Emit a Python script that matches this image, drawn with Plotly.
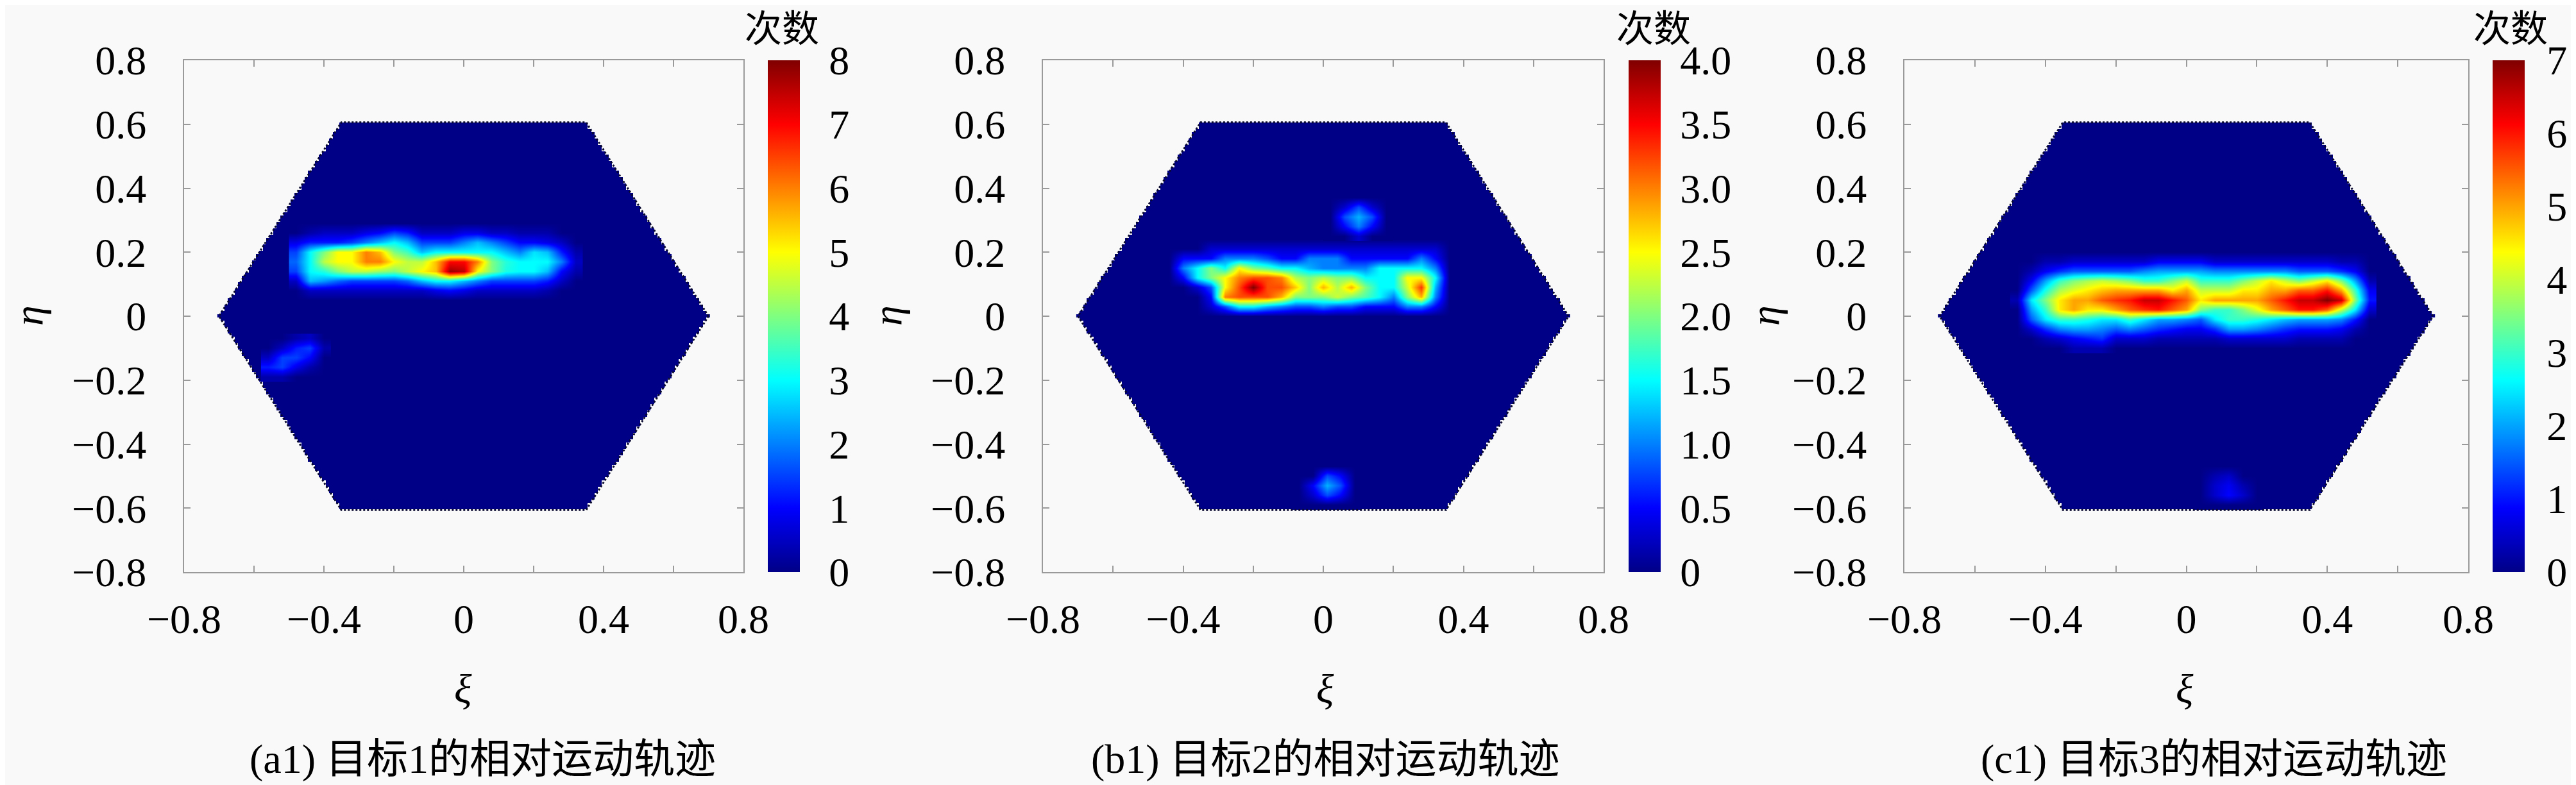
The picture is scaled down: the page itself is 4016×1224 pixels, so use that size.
import numpy as np
import plotly.graph_objects as go

#%% data
HEX_R = 0.7                      # hexagon circumradius in (xi, eta)
CBAR_MAX = [8, 4, 7]             # colour bar ranges per panel
CBAR_TICKS_A = [0, 1, 2, 3, 4, 5, 6, 7, 8]
CBAR_TICKS_B = [0, 0.5, 1.0, 1.5, 2.0, 2.5, 3.0, 3.5, 4.0]
CBAR_TEXT_B = ['0', '0.5', '1.0', '1.5', '2.0', '2.5', '3.0', '3.5', '4.0']
CBAR_TICKS_C = [0, 1, 2, 3, 4, 5, 6, 7]
AXIS_TICKS = [-0.8, -0.6, -0.4, -0.2, 0, 0.2, 0.4, 0.6, 0.8]
X_TEXT = ['\u22120.8', '', '\u22120.4', '', '0', '', '0.4', '', '0.8']
Y_TEXT = ['\u22120.8', '\u22120.6', '\u22120.4', '\u22120.2', '0', '0.2', '0.4', '0.6', '0.8']
CAPTIONS = ['(a1) 目标1的相对运动轨迹', '(b1) 目标2的相对运动轨迹', '(c1) 目标3的相对运动轨迹']

# counts on a coarse grid (dx = 0.04, dy = 0.03), rows from bottom to top
BAND_DX = 0.04
BAND_DY = 0.03

A_BAND_X0, A_BAND_Y0 = -0.48, 0.05
A_BAND = [
    [0]*21,
    [0, 0.5, 0.5, 0.5, 0.5, 0.5, 0.5, 0.5, 0.5, 0.5, 0.8, 1, 0.8, 0.5, 0.5, 0.5, 0.5, 0.5, 0.3, 0, 0],
    [0.5, 2.5, 2.2, 1.8, 1.5, 1.5, 1.5, 1.5, 1.8, 2.5, 3, 3, 2.5, 2, 1.5, 1.5, 1.5, 1.5, 1.2, 0.5, 0],
    [1.5, 3, 3.3, 4, 4.5, 4.5, 4.2, 4, 4.5, 5, 5.5, 7.8, 7.5, 5, 4, 3.2, 3, 3, 2.5, 1, 0.3],
    [1.8, 3, 4.5, 5, 5, 6, 6, 5, 4.5, 4.5, 5.5, 7, 7, 6, 4, 3.3, 3, 3, 3, 2, 0.5],
    [1.5, 3, 4, 5, 5, 6, 5.5, 4, 3.5, 2.5, 3, 3, 3, 3, 3, 2.5, 2, 2.8, 2.5, 1.2, 0.3],
    [0.8, 1.2, 1.2, 1.2, 1.5, 2, 2.5, 3, 2.5, 1.5, 1.5, 1.5, 2, 2.5, 2, 1.5, 1, 1, 0.8, 0.5, 0],
    [0, 0.3, 0.5, 0.5, 0.5, 0.8, 1, 1.5, 1.2, 0.5, 0.5, 0.5, 0.8, 0.8, 0.5, 0.5, 0.3, 0.3, 0.3, 0, 0],
    [0]*21,
]
A_SPOT_X0, A_SPOT_Y0 = -0.56, -0.19
A_SPOT = [
    [0.3, 0.3, 0, 0, 0],
    [1.2, 1.5, 0.8, 0.3, 0],
    [0.5, 1.5, 1.5, 1.0, 0],
    [0, 0.5, 1.2, 1.5, 0.3],
    [0, 0, 0.3, 0.5, 0],
]

B_BAND_X0, B_BAND_Y0 = -0.44, 0.0
B_BAND = [
    [0]*21,
    [0, 0, 0, 0.3, 0.8, 1.5, 1.5, 1.2, 1, 0.8, 0.8, 1, 0.8, 0.8, 0.5, 0.5, 0.5, 1, 1, 0.5, 0],
    [0, 0, 0, 0.5, 3, 3.2, 3.2, 3.2, 2.8, 2, 2, 2, 2.3, 2, 1.8, 1.5, 1, 2, 2.8, 1, 0],
    [0, 0, 0.3, 0.8, 2.5, 3.2, 4, 3.2, 3.2, 2.7, 2, 2.8, 2.2, 2.8, 2, 1.5, 1.5, 2.3, 3.3, 1.2, 0],
    [0, 0.5, 1.5, 2, 2.5, 3, 3.2, 3.2, 3, 2.2, 2, 2.2, 2, 2, 1.5, 1.5, 1.5, 2.5, 2.5, 1.5, 0],
    [0, 1, 1.5, 2, 1.5, 2.5, 2, 1.8, 1.5, 1.5, 1.2, 1, 1, 1, 1, 1.5, 1.5, 1.5, 1.5, 1, 0],
    [0, 0.5, 0.5, 0.5, 1, 1, 1, 0.8, 0.5, 0.5, 1, 1, 1, 0.5, 0.5, 0.5, 0.5, 0.5, 1, 0.5, 0],
    [0, 0, 0, 0.3, 0.3, 0.3, 0.3, 0.3, 0.3, 0.3, 0.3, 0.3, 0.3, 0.3, 0.3, 0.3, 0.3, 0.3, 0.3, 0.3, 0],
    [0]*21,
]
B_SPOT1_X0, B_SPOT1_Y0 = 0.02, 0.25
B_SPOT1 = [
    [0, 0, 0.3, 0, 0],
    [0, 0.5, 1, 0.5, 0],
    [0, 0.8, 1.2, 0.8, 0],
    [0, 0.3, 0.8, 0.3, 0],
    [0, 0, 0, 0, 0],
]
B_SPOT2_X0, B_SPOT2_Y0 = -0.07, -0.59
B_SPOT2 = [
    [0, 0, 0, 0, 0],
    [0, 0.3, 0.8, 0.5, 0],
    [0, 0.5, 1.2, 0.8, 0],
    [0, 0, 0.8, 0.5, 0],
    [0, 0, 0, 0, 0],
]

C_BAND_X0, C_BAND_Y0 = -0.48, -0.10
C_BAND = [
    [0, 0, 0, 0, 0.3, 0.3, 0.3, 0, 0, 0, 0, 0, 0, 0, 0, 0, 0, 0, 0, 0, 0, 0, 0, 0, 0, 0],
    [0, 0, 0.3, 0.5, 0.8, 1, 1.2, 0.5, 0.5, 0.5, 0.3, 0.3, 0.3, 0.3, 0.3, 0.5, 0.5, 0.5, 0.5, 0.5, 0.3, 0.3, 0.3, 0.3, 0, 0],
    [0, 0.5, 1.2, 1.8, 2, 2, 1.8, 1.5, 1.8, 1.5, 1.2, 1, 0.8, 0.8, 1.2, 2, 2, 1.8, 1.5, 1.2, 1, 1, 1, 0.8, 0.3, 0],
    [0, 1.5, 2.5, 3, 3, 2.8, 2.5, 2.5, 3, 2.5, 2, 2, 1.8, 1.5, 2.5, 3, 3, 2.8, 2.5, 2.2, 2, 2, 2, 1.8, 1, 0],
    [0, 2, 3, 4.5, 5, 4.5, 4.5, 5, 5.5, 5.8, 6, 5.5, 5, 3.5, 3, 3, 3.5, 4.2, 5, 5.5, 6, 6, 5.5, 4, 2.5, 0.5],
    [0.3, 2.5, 3.5, 4.5, 5, 5, 5.5, 5.8, 6, 6.5, 6.5, 6, 5.5, 4.5, 5, 5, 5, 5, 5.5, 6, 6.5, 6.5, 7, 6.5, 3.5, 1],
    [0, 1.5, 2.8, 3.8, 4.2, 4.5, 4.8, 5, 5, 5, 5, 4.5, 5, 4, 4, 4, 4.5, 4.5, 5, 5, 5.5, 5.5, 6, 5, 3, 0.8],
    [0, 0.8, 2, 3, 3.5, 3.8, 4, 3.8, 3.5, 3, 3, 3.5, 4, 3, 3, 3, 3.5, 4, 4.5, 4, 3.5, 4, 4.5, 3.5, 2, 0.3],
    [0, 0.3, 0.8, 1.2, 1.5, 1.5, 1.5, 1.5, 1.5, 1.8, 2, 2, 2, 2, 1.8, 1.8, 1.8, 1.8, 1.8, 1.8, 1.5, 1.5, 1.5, 1.2, 0.8, 0],
    [0, 0, 0.3, 0.3, 0.5, 0.5, 0.5, 0.5, 0.5, 0.5, 0.8, 0.8, 0.8, 0.8, 0.5, 0.5, 0.5, 0.5, 0.5, 0.5, 0.5, 0.5, 0.5, 0.3, 0.3, 0],
    [0]*26,
]
C_SPOT_X0, C_SPOT_Y0 = 0.04, -0.59
C_SPOT = [
    [0, 0, 0, 0, 0],
    [0, 0.5, 0.9, 0.5, 0],
    [0, 0.5, 0.8, 0.3, 0],
    [0, 0.3, 0.5, 0, 0],
    [0, 0, 0, 0, 0],
]

#%% style
JET = [[0, 'rgb(0,0,135)'], [0.125, 'rgb(0,0,255)'], [0.375, 'rgb(0,255,255)'],
       [0.625, 'rgb(255,255,0)'], [0.875, 'rgb(255,0,0)'], [1, 'rgb(128,0,0)']]
BG = '#f9f9f9'
SERIF = 'Liberation Serif'
CAP_FONT = 'Liberation Serif, Noto Sans CJK SC'
FS = 64
W, H = 4016, 1224

# pixel layout of the three panels
X_DOM = [(279, 1151), (1618, 2492), (2961, 3840)]
Y_TOP, Y_BOT = 86, 884
CBAR_X = [1189, 2531, 3878]
CBAR_TICKLEN = [33, 18, 22]
ETA_X = [37, 1376, 2744]
XI_X = [714, 2058, 3398]
CAP_X = [744, 2058, 3443]
CNT_X = [1211, 2570, 3906]

#%% hexagon domain (zeros inside, blank outside)
gx = np.round(np.arange(-0.70, 0.7001, 0.01), 3)
gy = np.round(np.arange(-0.61, 0.6101, 0.01), 3)
GX, GY = np.meshgrid(gx, gy)
inside = (np.abs(GY) <= HEX_R*np.sqrt(3)/2) & (np.abs(GY) <= np.sqrt(3)*(HEX_R - np.abs(GX)))
hex_z = np.where(inside, 0.0, np.nan)
ang = np.radians(np.arange(0, 361, 60))
hex_x = HEX_R*np.cos(ang)
hex_y = HEX_R*np.sin(ang)


def patch(x0, y0, z, n, zmax):
    xs = [round(x0 + BAND_DX*i, 3) for i in range(len(z[0]))]
    ys = [round(y0 + BAND_DY*j, 3) for j in range(len(z))]
    return go.Heatmap(x=xs, y=ys, z=z, zsmooth='best', colorscale=JET, zmin=0, zmax=zmax,
                      showscale=False, xaxis='x' + n, yaxis='y' + n, hoverinfo='skip')


panels = [
    [(A_BAND_X0, A_BAND_Y0, A_BAND), (A_SPOT_X0, A_SPOT_Y0, A_SPOT)],
    [(B_BAND_X0, B_BAND_Y0, B_BAND), (B_SPOT1_X0, B_SPOT1_Y0, B_SPOT1), (B_SPOT2_X0, B_SPOT2_Y0, B_SPOT2)],
    [(C_BAND_X0, C_BAND_Y0, C_BAND), (C_SPOT_X0, C_SPOT_Y0, C_SPOT)],
]
cbar_ticks = [(CBAR_TICKS_A, [str(v) for v in CBAR_TICKS_A]),
              (CBAR_TICKS_B, CBAR_TEXT_B),
              (CBAR_TICKS_C, [str(v) for v in CBAR_TICKS_C])]

fig = go.Figure()
layout = dict(width=W, height=H, margin=dict(l=0, r=0, t=0, b=0, autoexpand=False),
              paper_bgcolor=BG, plot_bgcolor=BG, showlegend=False)
annotations = []
ydom = [1 - Y_BOT/H, 1 - Y_TOP/H]


def note(x, y, text, family, size, angle=0):
    return dict(x=x/W, y=1 - y/H, text=text, textangle=angle, showarrow=False,
                xref='paper', yref='paper', xanchor='center', yanchor='middle',
                font=dict(family=family, size=size, color='black'))


for k in range(3):
    n = '' if k == 0 else str(k + 1)
    zmax = CBAR_MAX[k]
    tv, tt = cbar_ticks[k]
    fig.add_trace(go.Heatmap(
        x=gx, y=gy, z=hex_z, colorscale=JET, zmin=0, zmax=zmax, hoverinfo='skip',
        xaxis='x' + n, yaxis='y' + n,
        colorbar=dict(x=CBAR_X[k]/W, xanchor='left', xpad=0, y=ydom[0], yanchor='bottom', ypad=0,
                      len=ydom[1] - ydom[0], lenmode='fraction', thickness=50, thicknessmode='pixels',
                      outlinewidth=0, tickvals=tv, ticktext=tt, ticks='outside',
                      ticklen=CBAR_TICKLEN[k], tickcolor='rgba(0,0,0,0)',
                      tickfont=dict(family=SERIF, size=FS, color='black'))))
    for x0, y0, z in panels[k]:
        fig.add_trace(patch(x0, y0, z, n, zmax))
    fig.add_trace(go.Scatter(x=hex_x, y=hex_y, mode='lines', hoverinfo='skip',
                             line=dict(color='#0a0a30', width=3, dash='dot'),
                             xaxis='x' + n, yaxis='y' + n))

    ax = dict(range=[-0.8, 0.8], showgrid=False, zeroline=False, showline=True,
              linecolor='#9a9a9a', linewidth=2, mirror='ticks', ticks='inside', ticklen=10,
              tickcolor='#9a9a9a', tickwidth=2, tickvals=AXIS_TICKS, automargin=False,
              tickfont=dict(family=SERIF, size=FS, color='black'))
    layout['xaxis' + n] = dict(ax, domain=[X_DOM[k][0]/W, X_DOM[k][1]/W], ticktext=X_TEXT,
                               anchor='y' + n, ticklabelstandoff=16)
    layout['yaxis' + n] = dict(ax, domain=ydom, ticktext=Y_TEXT, anchor='x' + n,
                               ticklabelstandoff=44)

    annotations += [
        note(ETA_X[k], 484, '<i>η</i>', SERIF, FS, -90),
        note(XI_X[k], 1066, '<i>ξ</i>', SERIF, FS),
        note(CAP_X[k], 1175, CAPTIONS[k], CAP_FONT, FS),
        note(CNT_X[k], 37, '次数', CAP_FONT, FS - 6),
    ]

layout['annotations'] = annotations
fig.update_layout(**layout)
fig.write_html("out.html")
